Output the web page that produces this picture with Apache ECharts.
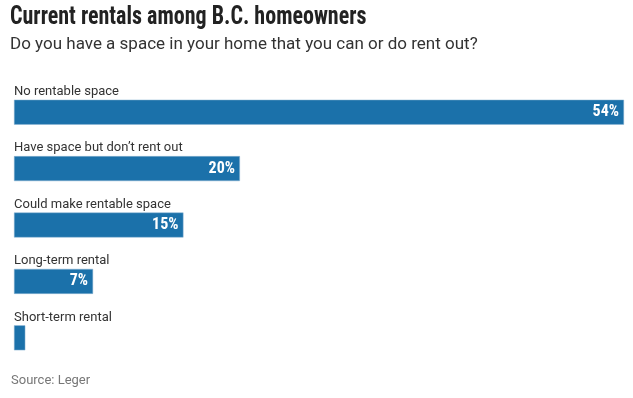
<!DOCTYPE html>
<html><head><meta charset="utf-8">
<script src="https://cdn.jsdelivr.net/npm/echarts@6/dist/echarts.min.js"></script>
<style>html,body{margin:0;padding:0;background:#fff}#c{width:633px;height:398px}</style>
</head><body><div id="c"></div>
<script>
const categories = ["No rentable space", "Have space but don’t rent out", "Could make rentable space", "Long-term rental", "Short-term rental"];
const values = [54, 20, 15, 7, 1];
const titleText = "Current rentals among B.C. homeowners";
const subtitleText = "Do you have a space in your home that you can or do rent out?";
const sourceText = "Source: Leger";

const COND = '"Roboto Condensed",Roboto,sans-serif';
const REG = 'Roboto,"Liberation Sans",sans-serif';
const chart = echarts.init(document.getElementById('c'));
chart.setOption({
  animation: false,
  textStyle: { fontFamily: REG },
  graphic: [
    { type: 'text', left: 10, top: 5, scaleX: 0.88, style: { text: titleText, font: 'bold 25px ' + COND, fill: '#222' } },
    { type: 'text', left: 10, top: 36, style: { text: subtitleText, font: '17px ' + REG, fill: '#333' } },
    { type: 'text', left: 11, top: 374, style: { text: sourceText, font: '13px ' + REG, fill: '#777' } }
  ],
  grid: { left: 14, width: 610, top: 84, height: 282 },
  xAxis: { type: 'value', min: 0, max: 54, show: false },
  yAxis: {
    type: 'category', data: categories, inverse: true,
    axisLine: { show: false }, axisTick: { show: false }, splitLine: { show: false },
    axisLabel: { inside: true, align: 'left', verticalAlign: 'bottom', margin: 0, padding: [0, 0, 14, 0],
      fontFamily: REG, fontSize: 13, color: '#333' }
  },
  series: [{
    type: 'bar', data: values, barWidth: 25,
    itemStyle: { color: '#1b71aa', borderColor: '#8fb6d4', borderWidth: 0.5 },
    label: { show: true, position: 'insideRight', distance: 5, color: '#fff', fontFamily: COND,
      fontSize: 16, fontWeight: 'bold',
      formatter: p => p.value >= 5 ? p.value + '%' : '' }
  }]
});
</script></body></html>
